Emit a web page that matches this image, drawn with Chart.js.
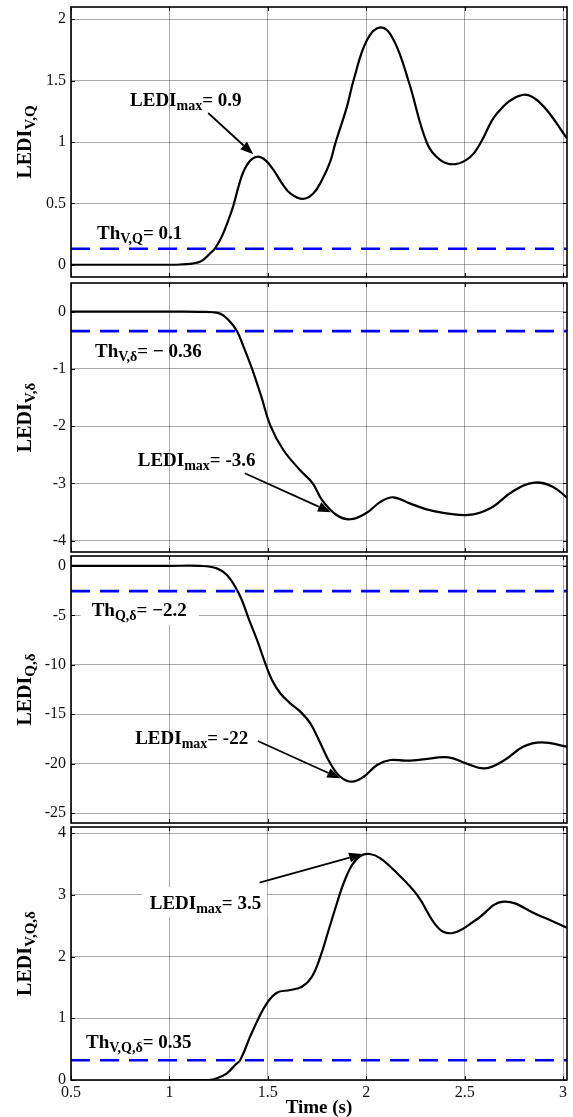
<!DOCTYPE html>
<html>
<head>
<meta charset="utf-8">
<script src="https://cdn.jsdelivr.net/npm/chart.js@4.4.1/dist/chart.umd.min.js"></script>
<style>
html, body { margin: 0; padding: 0; background: #fff; }
#wrap { position: relative; width: 573px; height: 1117px; }
canvas { position: absolute; left: 0; }
</style>
</head>
<body>
<div id="wrap">
  <canvas id="c1" width="573" height="280" style="top:0px"></canvas>
  <canvas id="c2" width="573" height="274" style="top:280px"></canvas>
  <canvas id="c3" width="573" height="271" style="top:554px"></canvas>
  <canvas id="c4" width="573" height="292" style="top:825px"></canvas>
</div>
<script>
// time axis
const timeTicks = [0.5, 1, 1.5, 2, 2.5, 3];
const timeMin = 0.5, timeMax = 3.02;

// LEDI V,Q
const tVQ   = [0.5, 1.0, 1.054, 1.156, 1.207, 1.232, 1.266, 1.300, 1.326, 1.351, 1.376, 1.41, 1.448, 1.487, 1.529, 1.572, 1.614, 1.678, 1.732, 1.775, 1.817, 1.843, 1.902, 1.936, 2.004, 2.075, 2.14, 2.216, 2.309, 2.377, 2.453, 2.53, 2.58, 2.665, 2.792, 2.886, 3.02];
const ledVQ = [0, 0, 0.002, 0.025, 0.093, 0.134, 0.229, 0.365, 0.487, 0.636, 0.758, 0.848, 0.880, 0.853, 0.772, 0.663, 0.582, 0.536, 0.582, 0.690, 0.840, 0.989, 1.288, 1.505, 1.831, 1.934, 1.83, 1.491, 0.99, 0.853, 0.82, 0.88, 0.99, 1.234, 1.383, 1.315, 1.03];
const thVQ = 0.13;
const ticksVQ = [0, 0.5, 1, 1.5, 2];

// LEDI V,delta
const tVD   = [0.5, 1.0, 1.15, 1.253, 1.30, 1.343, 1.383, 1.42, 1.467, 1.514, 1.579, 1.663, 1.728, 1.775, 1.849, 1.919, 1.998, 2.074, 2.137, 2.221, 2.333, 2.519, 2.63, 2.742, 2.854, 2.947, 3.02];
const ledVD = [0, 0, -0.003, -0.03, -0.146, -0.34, -0.67, -1.0, -1.486, -2.0, -2.418, -2.767, -3.0, -3.29, -3.553, -3.628, -3.524, -3.32, -3.244, -3.35, -3.478, -3.553, -3.437, -3.146, -2.989, -3.058, -3.25];
const thVD = -0.34;
const ticksVD = [-4, -3, -2, -1, 0];

// LEDI Q,delta
const tQD   = [0.5, 1.0, 1.156, 1.241, 1.292, 1.334, 1.368, 1.402, 1.445, 1.487, 1.521, 1.563, 1.614, 1.665, 1.716, 1.767, 1.817, 1.868, 1.928, 1.987, 2.055, 2.123, 2.2, 2.277, 2.417, 2.507, 2.603, 2.703, 2.797, 2.891, 3.02];
const ledQD = [0, 0, 0, -0.25, -0.92, -2.1, -3.45, -5.3, -7.49, -9.85, -11.54, -12.88, -13.9, -14.74, -15.92, -17.94, -19.96, -21.32, -21.82, -21.32, -20.13, -19.63, -19.7, -19.6, -19.36, -19.97, -20.47, -19.63, -18.28, -17.84, -18.28];
const thQD = -2.55;
const ticksQD = [-25, -20, -15, -10, -5, 0];

// LEDI V,Q,delta
const tVQD   = [1.0, 1.2, 1.241, 1.292, 1.334, 1.36, 1.41, 1.453, 1.495, 1.546, 1.614, 1.673, 1.724, 1.767, 1.809, 1.851, 1.885, 1.928, 1.97, 2.017, 2.072, 2.157, 2.258, 2.37, 2.445, 2.557, 2.696, 2.873, 3.02];
const ledVQD = [0, 0, 0.027, 0.108, 0.243, 0.324, 0.702, 1.0, 1.243, 1.415, 1.458, 1.512, 1.674, 2.0, 2.431, 2.864, 3.188, 3.484, 3.63, 3.662, 3.593, 3.35, 3.0, 2.45, 2.387, 2.593, 2.89, 2.674, 2.468];
const thVQD = 0.32;
const ticksVQD = [0, 1, 2, 3, 4];

const FONT = '"Liberation Serif", "Times New Roman", serif';
const gridColor = 'rgba(0,0,0,0.42)';

const panels = [
  { id: 'c1', padTop: 7, padBottom: 3, xAxisH: 0, showX: false,
    t: tVQ, v: ledVQ, th: thVQ, yMin: -0.1, yMax: 2.1, yTicks: ticksVQ, title: ['LEDI', 'V,Q'],
    notes: [
      { x: 0.632, y: 0.207, parts: [['Th', 0], ['V,Q', 1], ['= 0.1', 0]] },
      { x: 0.80, y: 1.293, parts: [['LEDI', 0], ['max', 1], ['= 0.9', 0]] }
    ],
    arrows: [[1.197, 1.236, 1.426, 0.90]] },
  { id: 'c2', padTop: 3, padBottom: 2, xAxisH: 0, showX: false,
    t: tVD, v: ledVD, th: thVD, yMin: -4.2, yMax: 0.5, yTicks: ticksVD, title: ['LEDI', 'V,δ'],
    notes: [
      { x: 0.622, y: -0.798, parts: [['Th', 0], ['V,δ', 1], ['= − 0.36', 0]] },
      { x: 0.839, y: -2.697, parts: [['LEDI', 0], ['max', 1], ['= -3.6', 0]] }
    ],
    arrows: [[1.383, -2.825, 1.821, -3.506]] },
  { id: 'c3', padTop: 2, padBottom: 2, xAxisH: 0, showX: false,
    t: tQD, v: ledQD, th: thQD, yMin: -26, yMax: 1, yTicks: ticksQD, title: ['LEDI', 'Q,δ'],
    notes: [
      { x: 0.605, y: -5.07, parts: [['Th', 0], ['Q,δ', 1], ['= −2.2', 0]], box: [11, 12, 23, 9] },
      { x: 0.826, y: -18.04, parts: [['LEDI', 0], ['max', 1], ['= -22', 0]] }
    ],
    arrows: [[1.449, -17.71, 1.868, -21.48]] },
  { id: 'c4', padTop: 2, padBottom: 0, xAxisH: 37, showX: true,
    t: tVQD, v: ledVQD, th: thVQD, yMin: 0, yMax: 4.1, yTicks: ticksVQD, title: ['LEDI', 'V,Q,δ'],
    notes: [
      { x: 0.576, y: 0.514, parts: [['Th', 0], ['V,Q,δ', 1], ['= 0.35', 0]] },
      { x: 0.9, y: 2.771, parts: [['LEDI', 0], ['max', 1], ['= 3.5', 0]], box: [8, 6, 22, 8] }
    ],
    arrows: [[1.458, 3.197, 1.979, 3.662]] }
];

function richWidth(ctx, parts, size, sub) {
  let w = 0;
  parts.forEach(([s, isSub]) => {
    ctx.font = 'bold ' + (isSub ? sub : size) + 'px ' + FONT;
    w += ctx.measureText(s).width;
  });
  return w;
}

function drawRich(ctx, parts, x, y, size, sub) {
  let cx = x;
  ctx.textAlign = 'left';
  ctx.textBaseline = 'alphabetic';
  parts.forEach(([s, isSub]) => {
    ctx.font = 'bold ' + (isSub ? sub : size) + 'px ' + FONT;
    ctx.fillText(s, cx, isSub ? y + 4 : y);
    cx += ctx.measureText(s).width;
  });
}

function drawArrow(ctx, x0, y0, x1, y1) {
  const a = Math.atan2(y1 - y0, x1 - x0);
  const len = 13, half = 5;
  const bx = x1 - len * Math.cos(a), by = y1 - len * Math.sin(a);
  ctx.strokeStyle = '#000';
  ctx.lineWidth = 1.8;
  ctx.beginPath();
  ctx.moveTo(x0, y0);
  ctx.lineTo(bx, by);
  ctx.stroke();
  ctx.fillStyle = '#000';
  ctx.beginPath();
  ctx.moveTo(x1, y1);
  ctx.lineTo(bx + half * Math.sin(a), by - half * Math.cos(a));
  ctx.lineTo(bx - half * Math.sin(a), by + half * Math.cos(a));
  ctx.closePath();
  ctx.fill();
}

function makeDeco(p) {
  return {
    id: 'deco_' + p.id,
    beforeDatasetsDraw(chart) {
      const ctx = chart.ctx, xs = chart.scales.x, ys = chart.scales.y;
      ctx.save();
      p.notes.forEach(n => {
        if (!n.box) return;
        const px = xs.getPixelForValue(n.x), py = ys.getPixelForValue(n.y);
        const w = richWidth(ctx, n.parts, 19, 14);
        ctx.fillStyle = '#fff';
        ctx.fillRect(px - n.box[0], py - n.box[2], w + n.box[0] + n.box[1], n.box[2] + n.box[3]);
      });
      ctx.restore();
    },
    afterDatasetsDraw(chart) {
      const ctx = chart.ctx, xs = chart.scales.x, ys = chart.scales.y;
      ctx.save();
      ctx.fillStyle = '#000';
      p.notes.forEach(n => {
        drawRich(ctx, n.parts, xs.getPixelForValue(n.x), ys.getPixelForValue(n.y), 19, 14);
      });
      p.arrows.forEach(a => {
        drawArrow(ctx, xs.getPixelForValue(a[0]), ys.getPixelForValue(a[1]),
                  xs.getPixelForValue(a[2]), ys.getPixelForValue(a[3]));
      });
      ctx.restore();
    },
    afterDraw(chart) {
      const ctx = chart.ctx, area = chart.chartArea, xs = chart.scales.x, ys = chart.scales.y;
      ctx.save();
      // frame and inward ticks
      ctx.strokeStyle = '#000';
      ctx.lineWidth = 1;
      ctx.beginPath();
      timeTicks.forEach(v => {
        const x = Math.round(xs.getPixelForValue(v)) + 0.5;
        ctx.moveTo(x, area.top); ctx.lineTo(x, area.top + 4);
        ctx.moveTo(x, area.bottom); ctx.lineTo(x, area.bottom - 4);
      });
      p.yTicks.forEach(v => {
        const y = Math.round(ys.getPixelForValue(v)) + 0.5;
        ctx.moveTo(area.left, y); ctx.lineTo(area.left + 4, y);
        ctx.moveTo(area.right, y); ctx.lineTo(area.right - 4, y);
      });
      ctx.stroke();
      ctx.lineWidth = 1.6;
      ctx.strokeRect(area.left, area.top, area.right - area.left, area.bottom - area.top);

      // rotated y title with subscript
      const tw = richWidth(ctx, [[p.title[0], 0], [p.title[1], 1]], 20, 15);
      ctx.translate(31, (area.top + area.bottom) / 2);
      ctx.rotate(-Math.PI / 2);
      ctx.fillStyle = '#000';
      drawRich(ctx, [[p.title[0], 0], [p.title[1], 1]], -tw / 2, 0, 20, 15);
      ctx.restore();

      if (p.showX) {
        ctx.save();
        ctx.fillStyle = '#000';
        ctx.font = 'bold 19px ' + FONT;
        ctx.textAlign = 'center';
        ctx.textBaseline = 'middle';
        ctx.fillText('Time (s)', (area.left + area.right) / 2, area.bottom + 28);
        ctx.restore();
      }
    }
  };
}

panels.forEach(p => {
  new Chart(document.getElementById(p.id), {
    type: 'line',
    data: {
      datasets: [
        {
          data: p.t.map((t, i) => ({ x: t, y: p.v[i] })),
          borderColor: '#000',
          borderWidth: 2.2,
          pointRadius: 0,
          tension: 0.4,
          order: 1
        },
        {
          data: [{ x: timeMin, y: p.th }, { x: timeMax, y: p.th }],
          borderColor: '#0000ff',
          borderWidth: 2.6,
          borderDash: [19, 10],
          pointRadius: 0,
          order: 2
        }
      ]
    },
    options: {
      responsive: false,
      animation: false,
      events: [],
      layout: { padding: { left: 0, right: 6, top: p.padTop, bottom: p.padBottom } },
      plugins: { legend: { display: false }, tooltip: { enabled: false } },
      scales: {
        x: {
          type: 'linear',
          min: timeMin,
          max: timeMax,
          afterBuildTicks: s => { s.ticks = timeTicks.map(v => ({ value: v })); },
          afterFit: s => { s.height = p.xAxisH; s.paddingLeft = 0; s.paddingRight = 0; },
          grid: { color: gridColor, lineWidth: 0.8, drawTicks: false },
          border: { display: false },
          ticks: {
            display: p.showX,
            padding: 3,
            maxRotation: 0,
            autoSkip: false,
            color: '#111',
            font: { family: FONT, size: 16 },
            callback: v => String(v)
          }
        },
        y: {
          type: 'linear',
          min: p.yMin,
          max: p.yMax,
          afterBuildTicks: s => { s.ticks = p.yTicks.map(v => ({ value: v })); },
          afterFit: s => { s.width = 71; s.paddingTop = 0; s.paddingBottom = 0; },
          grid: { color: gridColor, lineWidth: 0.8, drawTicks: false },
          border: { display: false },
          ticks: {
            padding: 5,
            autoSkip: false,
            color: '#111',
            font: { family: FONT, size: 16 },
            callback: v => String(v)
          }
        }
      }
    },
    plugins: [makeDeco(p)]
  });
});
</script>
</body>
</html>
